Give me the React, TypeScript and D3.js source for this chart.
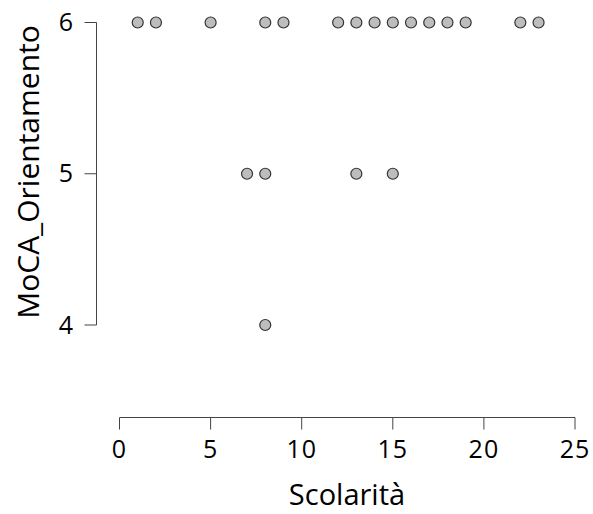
import React, { useRef, useEffect } from 'react';
import { select, scaleLinear } from 'd3';

// observations: years of schooling vs MoCA orientation score
const scolarita = [1, 2, 5, 8, 9, 12, 13, 14, 15, 16, 17, 18, 19, 22, 23, 7, 8, 13, 15, 8];
const orientamento = [6, 6, 6, 6, 6, 6, 6, 6, 6, 6, 6, 6, 6, 6, 6, 5, 5, 5, 5, 4];
const xTicks = [0, 5, 10, 15, 20, 25];
const yTicks = [4, 5, 6];

const font = '"Open Sans", sans-serif';

function App() {
  const svgRef = useRef<SVGSVGElement>(null);

  useEffect(() => {
    const svg = select(svgRef.current);
    svg.selectAll('*').remove();

    const xScale = scaleLinear().domain([0, 25]).range([119.5, 575]);
    const yScale = scaleLinear().domain([4, 6]).range([325, 22.5]);
    const axisColor = '#444';

    // y axis
    const yAxisX = 96.5;
    svg.append('line')
      .attr('x1', yAxisX).attr('x2', yAxisX)
      .attr('y1', yScale(6)).attr('y2', yScale(4))
      .attr('stroke', axisColor).attr('stroke-width', 1);
    svg.selectAll('.ytick')
      .data(yTicks)
      .join('line')
      .attr('class', 'ytick')
      .attr('x1', yAxisX - 12).attr('x2', yAxisX)
      .attr('y1', d => yScale(d)).attr('y2', d => yScale(d))
      .attr('stroke', axisColor);
    svg.selectAll('.ylabel')
      .data(yTicks)
      .join('text')
      .attr('class', 'ylabel')
      .attr('x', 73)
      .attr('y', d => yScale(d))
      .attr('dy', '0.34em')
      .attr('text-anchor', 'end')
      .style('font-family', font)
      .style('font-size', '25px')
      .text(d => d);

    // x axis
    const xAxisY = 417.5;
    svg.append('line')
      .attr('x1', xScale(0)).attr('x2', xScale(25))
      .attr('y1', xAxisY).attr('y2', xAxisY)
      .attr('stroke', axisColor);
    svg.selectAll('.xtick')
      .data(xTicks)
      .join('line')
      .attr('class', 'xtick')
      .attr('x1', d => xScale(d)).attr('x2', d => xScale(d))
      .attr('y1', xAxisY).attr('y2', xAxisY + 12)
      .attr('stroke', axisColor);
    svg.selectAll('.xlabel')
      .data(xTicks)
      .join('text')
      .attr('class', 'xlabel')
      .attr('x', d => xScale(d))
      .attr('y', 458)
      .attr('text-anchor', 'middle')
      .style('font-family', font)
      .style('font-size', '25px')
      .style('letter-spacing', '1px')
      .text(d => d);

    // axis titles
    svg.append('text')
      .attr('x', 347)
      .attr('y', 505)
      .attr('text-anchor', 'middle')
      .style('font-family', font)
      .style('font-size', '29px')
      .text('Scolarità');
    svg.append('text')
      .attr('transform', 'translate(39,172) rotate(-90)')
      .attr('text-anchor', 'middle')
      .style('font-family', font)
      .style('font-size', '30px')
      .text('MoCA_Orientamento');

    // points
    svg.selectAll('.dot')
      .data(scolarita.map((s, i) => ({ x: s, y: orientamento[i] })))
      .join('circle')
      .attr('class', 'dot')
      .attr('cx', d => xScale(d.x))
      .attr('cy', d => yScale(d.y))
      .attr('r', 5.5)
      .attr('fill', '#bdbdbd')
      .attr('stroke', '#333')
      .attr('stroke-width', 1.2);
  }, []);

  return (
    <svg ref={svgRef} width={593} height={514} style={{ position: 'absolute', left: 0, top: 0, background: '#fff' }} />
  );
}

export default App;
